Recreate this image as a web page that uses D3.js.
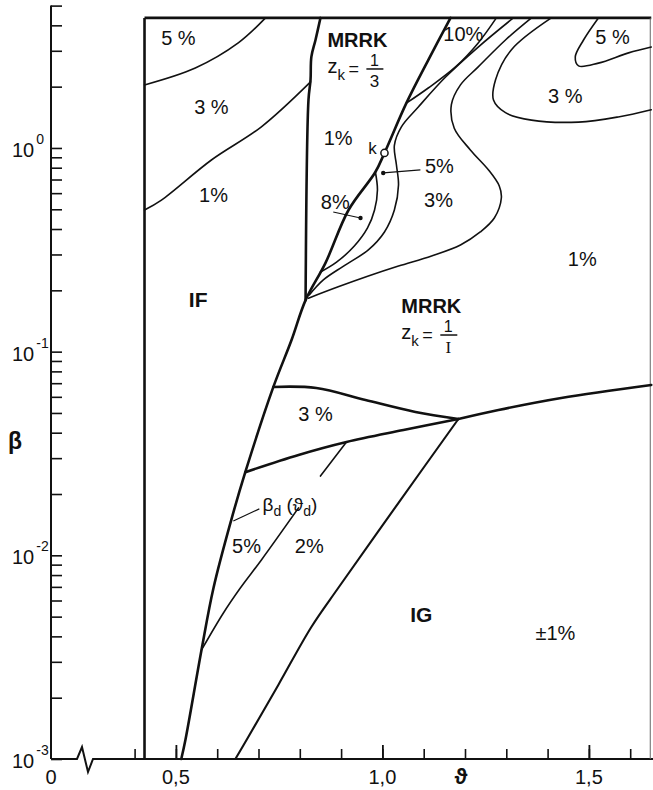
<!DOCTYPE html>
<html>
<head>
<meta charset="utf-8">
<script src="https://cdn.jsdelivr.net/npm/d3@7"></script>
<style>
  body { margin: 0; background: #fff; }
  svg { display: block; font-family: "Liberation Sans", Arial, sans-serif; }
  text { fill: #111; }
</style>
</head>
<body>
<svg id="chart" width="653" height="790"></svg>
<script>
// values, points are [theta, beta]
const boxTop = 4.35;        // beta of the upper frame line
const thetaLeft = 0.424;    // IF left boundary
const thetaRight = 1.651;   // sheet edge on the right

const ifBoundary = [[0.814,0.179],[0.821,1.72],[0.826,2.16],[0.828,2.80],[0.838,3.39],[0.850,4.35]];
const mainBoundary = [[0.513,0.001],[0.523,0.00124],[0.562,0.00343],[0.591,0.00691],[0.634,0.0149],
  [0.668,0.0256],[0.736,0.0671],[0.780,0.114],[0.814,0.179],[0.862,0.272],[0.918,0.496],
  [0.983,0.762],[1.005,0.945],[1.058,1.66],[1.111,2.70],[1.165,4.35]];
const kPoint = [1.005, 0.945];

const if5 = [[0.424,2.04],[0.547,2.47],[0.651,3.28],[0.717,4.35]];
const if3 = [[0.424,0.496],[0.465,0.555],[0.586,0.873],[0.707,1.27],[0.826,2.11]];

const mrrk10 = [[1.058,1.66],[1.111,1.97],[1.177,2.50],[1.232,3.28],[1.276,4.35]];
const mrrk8 = [[0.983,0.762],[0.988,0.622],[0.981,0.496],[0.964,0.405],[0.932,0.330],[0.889,0.275],[0.850,0.246]];
const mrrk5 = [[1.317,4.35],[1.232,3.13],[1.153,2.23],[1.087,1.59],[1.046,1.27],[1.029,1.03],[1.034,0.825],
  [1.039,0.658],[1.029,0.496],[1.005,0.387],[0.966,0.316],[0.906,0.263],[0.857,0.225],[0.823,0.190]];
const mrrk3 = [[1.361,4.35],[1.298,3.39],[1.232,2.50],[1.189,2.04],[1.167,1.63],[1.174,1.25],[1.213,0.978],
  [1.257,0.780],[1.283,0.651],[1.288,0.568],[1.271,0.453],[1.237,0.387],[1.189,0.334],[1.119,0.295],
  [1.039,0.263],[0.966,0.235],[0.893,0.208],[0.821,0.183]];
const island3 = [[1.409,4.35],[1.312,3.03],[1.274,2.16],[1.269,1.72],[1.298,1.49],[1.361,1.37],[1.475,1.34],[1.571,1.42],[1.651,1.54]];
const island5 = [[1.523,4.35],[1.487,3.39],[1.467,2.80],[1.475,2.53],[1.523,2.61],[1.596,2.93],[1.651,3.13]];

const band3Top = [[0.736,0.0671],[0.840,0.0663],[0.959,0.0579],[1.080,0.0506],[1.184,0.0467]];
const band3Bottom = [[0.668,0.0256],[0.797,0.0311],[0.913,0.0360],[1.051,0.0412],[1.184,0.0467]];
const rightBoundary = [[1.184,0.0467],[1.281,0.0517],[1.433,0.0592],[1.651,0.0686]];
const igBoundary = [[1.184,0.0467],[1.039,0.0181],[0.893,0.00691],[0.828,0.00445],[0.748,0.00231],[0.671,0.00124],[0.644,0.001]];
const dLineLow = [[0.562,0.00343],[0.615,0.00521],[0.656,0.00691],[0.707,0.00949],[0.797,0.0171]];
const dLineHigh = [[0.850,0.0245],[0.913,0.0360]];

// leaders: [from, to], dot at "to"
const leaders = [
  {from:[1.092,0.780], to:[1.002,0.754], dot:true},
  {from:[0.881,0.485], to:[0.947,0.453], dot:true},
  {from:[0.702,0.0169], to:[0.639,0.01475], dot:false}
];

const regionLabels = [
  {t:"5 %", at:[0.506,3.47]}, {t:"3 %", at:[0.586,1.59]}, {t:"1%", at:[0.591,0.588]},
  {t:"IF", at:[0.554,0.179], bold:true},
  {t:"1%", at:[0.893,1.12]}, {t:"k", at:[0.976,1.0], size:17},
  {t:"8%", at:[0.886,0.543]}, {t:"5%", at:[1.138,0.816]}, {t:"3%", at:[1.136,0.555]},
  {t:"10%", at:[1.196,3.63]}, {t:"5 %", at:[1.557,3.51]}, {t:"3 %", at:[1.443,1.80]},
  {t:"1%", at:[1.484,0.285]},
  {t:"3 %", at:[0.838,0.0494]}, {t:"5%", at:[0.671,0.0111]}, {t:"2%", at:[0.823,0.0111]},
  {t:"IG", at:[1.094,0.00509], bold:true}, {t:"\u00b11%", at:[1.419,0.00416]}
];
const mrrkLabels = [{at:[0.937,3.39], denom:"3"}, {at:[1.116,0.1675], denom:"I"}];
const dLabelAt = [0.776,0.0178];

const yDecades = [-3, -2, -1];
const yMantissas = [1,2,3,4,5,6,7,8,9];
const yTopTicks = [1,2,3,4,5];
const yMajor = [{v:0.001, e:"-3"}, {v:0.01, e:"-2"}, {v:0.1, e:"-1"}, {v:1, e:"0"}];
const xMinor = d3.range(4, 17).map(d => d / 10);
const xMajor = [{v:0.5, t:"0,5"}, {v:1.0, t:"1,0"}, {v:1.5, t:"1,5"}];

const svg = d3.select("#chart");
const W = 653;

const x = d3.scaleLinear().domain([0.4, 1.6]).range([134.6, 630.2]);
const y = d3.scaleLog().domain([0.001, 5]).range([759, 5.6]);
const x0 = 51; // theta = 0, before the axis break
const ink = "#111";

// ---- axes ----
const yTicks = [];
yDecades.forEach(e => yMantissas.forEach(m => yTicks.push(m * Math.pow(10, e))));
yTopTicks.forEach(v => yTicks.push(v));

svg.append("g")
  .attr("transform", `translate(${x0},0)`)
  .call(d3.axisRight(y).tickValues(yTicks).tickSize(11).tickFormat(""))
  .call(g => g.select(".domain").remove())
  .call(g => g.selectAll("line").attr("stroke", ink).attr("stroke-width", 1.6));

svg.append("line")
  .attr("x1", x0).attr("x2", x0).attr("y1", y(5)).attr("y2", y(0.001))
  .attr("stroke", ink).attr("stroke-width", 2);

yMajor.forEach(d => {
  const t = svg.append("text").attr("x", 12).attr("y", y(d.v) + 9).attr("font-size", 20).text("10");
  t.append("tspan").attr("dy", -13).attr("dx", 2).attr("font-size", 14).text(d.e);
});

svg.append("text").attr("x", 15).attr("y", 449).attr("text-anchor", "middle")
  .attr("font-size", 23).attr("font-weight", "bold").text("\u03b2");

// x axis with break
const ax = y(0.001);
svg.append("path")
  .attr("d", `M${x0},${ax} H${x0 + 26} L${x0 + 31},${ax - 12} L${x0 + 37},${ax + 13} L${x0 + 42},${ax} H${W}`)
  .attr("fill", "none").attr("stroke", ink).attr("stroke-width", 2);

svg.append("g").attr("transform", `translate(0,${ax})`)
  .call(d3.axisBottom(x).tickValues(xMinor).tickSize(-10).tickFormat(""))
  .call(g => g.select(".domain").remove())
  .call(g => g.selectAll("line").attr("stroke", ink).attr("stroke-width", 1.6));
svg.append("g").attr("transform", `translate(0,${ax})`)
  .call(d3.axisBottom(x).tickValues(xMajor.map(d => d.v)).tickSize(-14).tickFormat(""))
  .call(g => g.select(".domain").remove())
  .call(g => g.selectAll("line").attr("stroke", ink).attr("stroke-width", 1.8));

svg.append("text").attr("x", x0).attr("y", ax + 25).attr("text-anchor", "middle").attr("font-size", 20).text("0");
xMajor.forEach(d => {
  svg.append("text").attr("x", x(d.v)).attr("y", ax + 25).attr("text-anchor", "middle").attr("font-size", 20).text(d.t);
});
svg.append("text").attr("x", x(1.19)).attr("y", ax + 25).attr("text-anchor", "middle")
  .attr("font-size", 22).attr("font-weight", "bold").text("\u03d1");

// ---- frame ----
svg.append("line")
  .attr("x1", x(thetaLeft)).attr("x2", x(thetaRight)).attr("y1", y(boxTop)).attr("y2", y(boxTop))
  .attr("stroke", ink).attr("stroke-width", 2.6);
svg.append("line")
  .attr("x1", x(thetaLeft)).attr("x2", x(thetaLeft)).attr("y1", y(boxTop)).attr("y2", y(0.001))
  .attr("stroke", ink).attr("stroke-width", 2.6);
svg.append("line")
  .attr("x1", x(thetaRight) - 1).attr("x2", x(thetaRight) - 1).attr("y1", y(boxTop)).attr("y2", y(0.001))
  .attr("stroke", "#666").attr("stroke-width", 1);

// ---- boundaries and contours ----
const smooth = d3.line().x(d => x(d[0])).y(d => y(d[1])).curve(d3.curveCatmullRom.alpha(0.5));

function draw(data, w) {
  svg.append("path").datum(data).attr("d", smooth)
    .attr("fill", "none").attr("stroke", ink).attr("stroke-width", w)
    .attr("stroke-linejoin", "round").attr("stroke-linecap", "round");
}

[if5, if3, mrrk10, mrrk8, mrrk5, mrrk3, island3, island5, dLineLow, dLineHigh].forEach(d => draw(d, 1.6));
draw(igBoundary, 2.1);
[ifBoundary, mainBoundary, band3Top, band3Bottom, rightBoundary].forEach(d => draw(d, 2.6));

// critical point k
svg.append("circle").attr("cx", x(kPoint[0])).attr("cy", y(kPoint[1])).attr("r", 3.6)
  .attr("fill", "#fff").attr("stroke", ink).attr("stroke-width", 1.5);

// leaders
leaders.forEach(d => {
  svg.append("line")
    .attr("x1", x(d.from[0])).attr("y1", y(d.from[1]))
    .attr("x2", x(d.to[0])).attr("y2", y(d.to[1]))
    .attr("stroke", ink).attr("stroke-width", 1.2);
  if (d.dot) svg.append("circle").attr("cx", x(d.to[0])).attr("cy", y(d.to[1])).attr("r", 2.2).attr("fill", ink);
});

// ---- labels ----
regionLabels.forEach(d => {
  svg.append("text")
    .attr("x", x(d.at[0])).attr("y", y(d.at[1])).attr("dy", "0.35em")
    .attr("text-anchor", "middle")
    .attr("font-size", d.size || (d.bold ? 21 : 20))
    .attr("font-weight", d.bold ? "bold" : "normal")
    .text(d.t);
});

mrrkLabels.forEach(d => {
  const cx = x(d.at[0]) - 29, cy = y(d.at[1]);
  const g = svg.append("g").attr("transform", `translate(${cx},${cy})`);
  g.append("text").attr("x", 0).attr("y", 7).attr("font-size", 20).attr("font-weight", "bold").text("MRRK");
  const z = g.append("text").attr("x", 0).attr("y", 33).attr("font-size", 20).text("z");
  z.append("tspan").attr("dy", 7).attr("font-size", 15).text("k");
  g.append("text").attr("x", 21).attr("y", 35).attr("font-size", 18).text("=");
  g.append("text").attr("x", 47).attr("y", 26).attr("text-anchor", "middle").attr("font-size", 16).text("1");
  g.append("line").attr("x1", 39).attr("x2", 56).attr("y1", 29).attr("y2", 29).attr("stroke", ink).attr("stroke-width", 1.5);
  g.append("text").attr("x", 47).attr("y", 47).attr("text-anchor", "middle").attr("font-size", 17)
    .attr("font-family", d.denom === "I" ? "'Liberation Serif', serif" : null).text(d.denom);
});

const dl = svg.append("text").attr("x", x(dLabelAt[0])).attr("y", y(dLabelAt[1])).attr("dy", "0.35em")
  .attr("text-anchor", "middle").attr("font-size", 19);
dl.append("tspan").text("\u03b2");
dl.append("tspan").attr("dy", 5).attr("font-size", 14).text("d");
dl.append("tspan").attr("dy", -5).text(" (\u03d1");
dl.append("tspan").attr("dy", 5).attr("font-size", 14).text("d");
dl.append("tspan").attr("dy", -5).text(")");
</script>
</body>
</html>
